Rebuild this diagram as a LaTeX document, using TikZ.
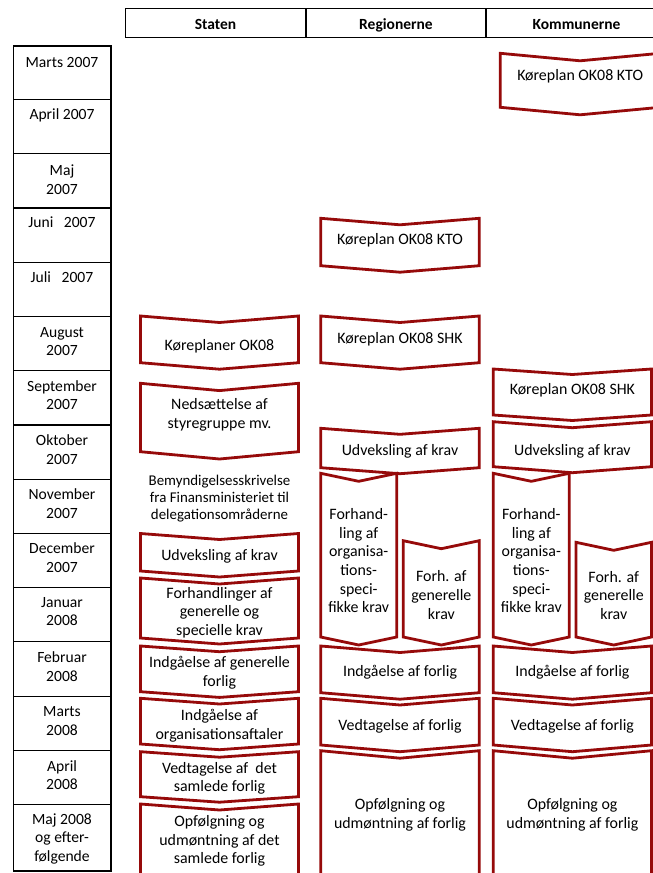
\documentclass[tikz,border=0pt]{standalone}
\usepackage{fontspec}
\setmainfont{Carlito}
\definecolor{chevred}{RGB}{150,10,10}
\newcommand\chev[8]{%
  \draw[chevline] (#2,#4) -- ({(#2+#3)/2},{#4+#6}) -- (#3,#4) -- (#3,#5) -- ({(#2+#3)/2},{#5+#6}) -- (#2,#5) -- cycle;
  \node[chtext] (#1) at ({(#2+#3)/2},#7) {#8};}
\begin{document}
\begin{tikzpicture}[x=1pt,y=-1pt,
  chevline/.style={draw=chevred,line width=2.8pt,line join=miter,fill=white},
  chtext/.style={align=center,inner sep=0pt,font=\fontsize{15.9}{18.6}\selectfont},
  mtext/.style={align=center,inner sep=0pt,font=\fontsize{15.6}{18.5}\selectfont},
  htext/.style={inner sep=0pt,anchor=base,font=\fontsize{15.5}{18.5}\selectfont\bfseries},
  gridline/.style={draw=black,line width=1.2pt}]
\useasboundingbox (0,0) rectangle (653,873);
\clip (0,0) rectangle (653,873);
% header
\draw[gridline] (125.7,8.3) rectangle (667,37.3);
\draw[gridline] (306,8.3) -- (306,37.3);
\draw[gridline] (486,8.3) -- (486,37.3);
\node[htext] (hs) at (215.5,29.3) {Staten};
\node[htext] (hr) at (396,29.3) {Regionerne};
\node[htext] (hk) at (576.5,29.3) {Kommunerne};
% month column
\draw[gridline] (13.7,46) rectangle (111,871);
\foreach \y in {99.3,153.7,208,262.3,316.3,370.7,425,479.3,533.3,587.3,641.7,696.3,750.3,804.7}
  \draw[gridline] (13.7,\y) -- (111,\y);
\node[mtext] (m1) at (62,62.7) {Marts 2007};
\node[mtext] (m2) at (62,115.7) {April 2007};
\node[mtext] (m3) at (62,179.5) {Maj\\2007};
\node[mtext] (m4) at (62,222.3) {Juni\ \ \ 2007};
\node[mtext] (m5) at (62,276.7) {Juli\ \ \ 2007};
\node[mtext] (m6) at (62,341.5) {August\\2007};
\node[mtext] (m7) at (62,395.2) {September\\2007};
\node[mtext] (m8) at (62,449.4) {Oktober\\2007};
\node[mtext] (m9) at (62,503.4) {November\\2007};
\node[mtext] (m10) at (62,557.8) {December\\2007};
\node[mtext] (m11) at (62,611.7) {Januar\\2008};
\node[mtext] (m12) at (62,666.7) {Februar\\2008};
\node[mtext] (m13) at (62,720.9) {Marts\\2008};
\node[mtext] (m14) at (62,775) {April\\2008};
\node[mtext] (m15) at (62,838.9) {Maj 2008\\og efter-\\følgende};
% Staten
\chev{s1}{140.5}{298.5}{316}{362.7}{6.5}{346}{Køreplaner OK08}
\chev{s2}{140.5}{298.5}{383.3}{451.7}{7.3}{415}{Nedsættelse af\\styregruppe mv.}
\node[chtext,font=\fontsize{14.9}{17.3}\selectfont] (s0) at (219.5,498.6) {Bemyndigelsesskrivelse\\fra Finansministeriet til\\delegationsområderne};
\chev{s3}{140.5}{298.5}{533.5}{571}{6}{556}{Udveksling af krav}
\chev{s4}{140.5}{298.5}{578}{638}{6}{612.7}{Forhandlinger af\\generelle og\\specielle krav}
\chev{s5}{140.5}{298.5}{646}{691.7}{5.7}{673}{Indgåelse af generelle\\forlig}
\chev{s6}{140.5}{298.5}{698.3}{744}{5.7}{726}{Indgåelse af\\organisationsaftaler}
\chev{s7}{140.5}{298.5}{751.7}{796.7}{5.5}{778.5}{Vedtagelse af\ \ det\\samlede forlig}
\chev{s8}{140.5}{298.5}{804}{900}{6}{841}{Opfølgning og\\udmøntning af det\\samlede forlig}
% Regionerne
\chev{r1}{320.7}{479.3}{218.3}{265.7}{6.5}{240}{Køreplan OK08 KTO}
\chev{r2}{320.7}{479.3}{316}{362.7}{6.5}{339.3}{Køreplan OK08 SHK}
\chev{r3}{320.7}{479.3}{428.3}{467.7}{6}{451}{Udveksling af krav}
\chev{r4}{320.7}{396.7}{473.3}{637}{8}{560.8}{Forhand-\\ling af\\organisa-\\tions-\\speci-\\fikke krav}
\chev{r5}{403.3}{479.3}{540.7}{637}{8}{595}{Forh. af\\generelle\\krav}
\chev{r6}{320.7}{479.3}{646}{692.7}{6.5}{672.7}{Indgåelse af forlig}
\chev{r7}{320.7}{479.3}{698.3}{745}{6.7}{726}{Vedtagelse af forlig}
\chev{r8}{320.7}{479.3}{750.7}{900}{7.5}{815}{Opfølgning og\\udmøntning af forlig}
% Kommunerne
\chev{k1}{500.3}{660}{53.3}{107.3}{7.5}{76}{Køreplan OK08 KTO}
\chev{k2}{493.3}{651.5}{369}{415}{5.5}{390.7}{Køreplan OK08 SHK}
\chev{k3}{493.3}{651.5}{421.7}{466.7}{6}{451}{Udveksling af krav}
\chev{k4}{493.3}{569.3}{473.3}{637}{8}{560.8}{Forhand-\\ling af\\organisa-\\tions-\\speci-\\fikke krav}
\chev{k5}{576}{651.5}{542.3}{637}{8}{595.3}{Forh. af\\generelle\\krav}
\chev{k6}{493.3}{651.5}{646}{692.7}{6.5}{672.7}{Indgåelse af forlig}
\chev{k7}{493.3}{651.5}{698.3}{745}{6.7}{726}{Vedtagelse af forlig}
\chev{k8}{493.3}{651.5}{750.7}{900}{7.5}{815}{Opfølgning og\\udmøntning af forlig}
\end{tikzpicture}
\end{document}
